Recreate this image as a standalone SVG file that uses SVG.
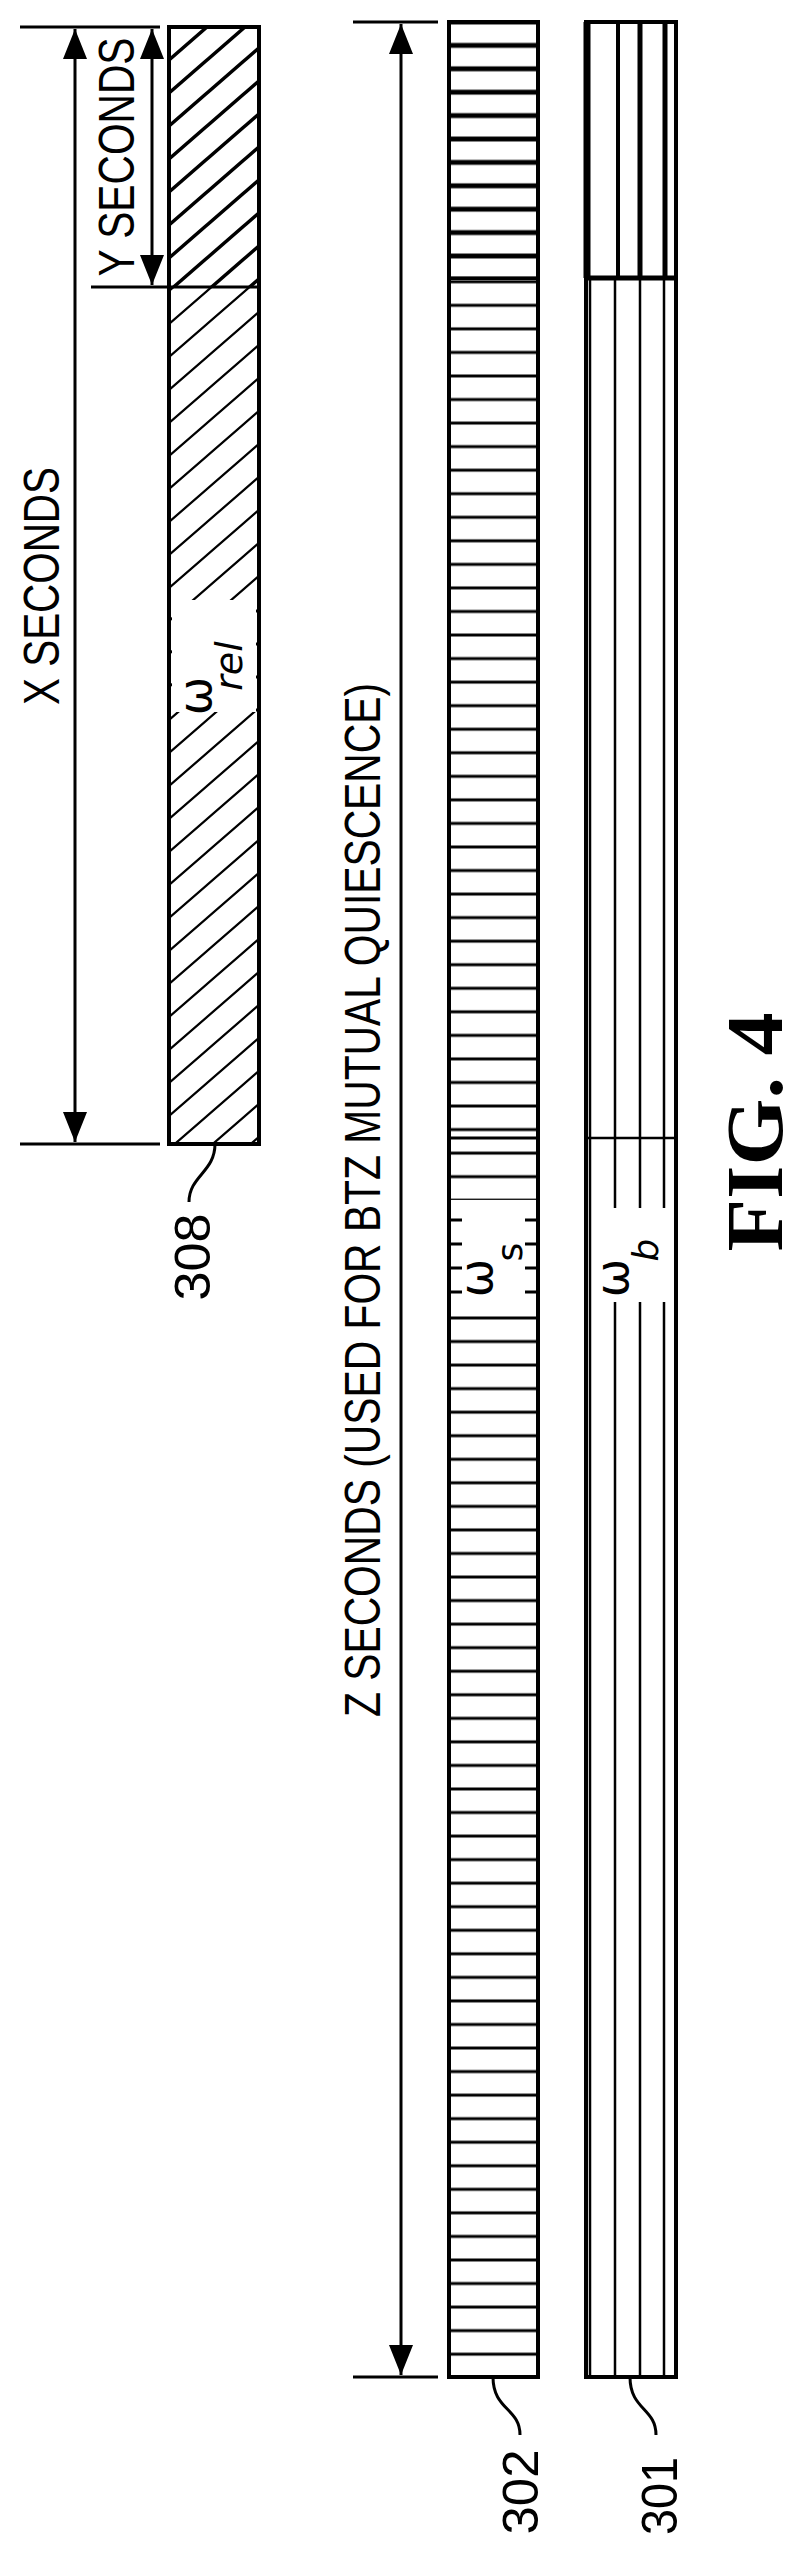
<svg xmlns="http://www.w3.org/2000/svg" width="800" height="2555" viewBox="0 0 800 2555">
<style>
.ln{stroke:#000;stroke-width:3;fill:none}
.bx{stroke:#000;stroke-width:4;fill:none}
.t{font-family:"Liberation Sans",Arial,sans-serif;font-size:50px;fill:#000}
.fig{font-family:"Liberation Serif","Times New Roman",serif;font-size:80px;font-weight:bold;fill:#000}
.w{font-family:"DejaVu Sans",sans-serif;fill:#000}
</style>
<defs>
<marker id="ah" viewBox="0 0 30 24" refX="30" refY="12" markerWidth="30" markerHeight="24" markerUnits="userSpaceOnUse" orient="auto-start-reverse"><path d="M0,0 L30,12 L0,24 Z" fill="#000"/></marker>
<pattern id="hatchA" width="38" height="33" patternUnits="userSpaceOnUse" x="169" y="27"><path d="M0,33 L38,0 M-4,3.5 L4,-3.5 M34,36.5 L42,29.5" stroke="#000" stroke-width="3.5"/></pattern>
<pattern id="hatchB" width="38" height="33" patternUnits="userSpaceOnUse" x="169" y="27"><path d="M0,33 L38,0 M-4,3.5 L4,-3.5 M34,36.5 L42,29.5" stroke="#000" stroke-width="2.2"/></pattern>
<pattern id="hzA" width="100" height="23.4" patternUnits="userSpaceOnUse" x="449" y="10.3"><path d="M0,11.7 H100" stroke="#000" stroke-width="5"/></pattern>
<pattern id="hzB" width="100" height="23.55" patternUnits="userSpaceOnUse" x="449" y="270"><path d="M0,11.8 H100" stroke="#000" stroke-width="3"/></pattern>
</defs>

<g id="connectors">
<path class="ln" d="M20,27 H160 M20,1144 H160"/>
<line class="ln" x1="75" y1="29" x2="75" y2="1142" marker-start="url(#ah)" marker-end="url(#ah)"/>
<path class="ln" d="M91,287 H259"/>
<line class="ln" x1="152" y1="29" x2="152" y2="285" marker-start="url(#ah)" marker-end="url(#ah)"/>
<path class="ln" d="M353,22 H438 M353,2377 H438"/>
<line class="ln" x1="401" y1="24" x2="401" y2="2375" marker-start="url(#ah)" marker-end="url(#ah)"/>
<path class="ln" stroke-width="2" d="M215,1144 C215,1172 189,1176 189,1202"/>
<path class="ln" stroke-width="2" d="M493,2377 C493,2410 520,2408 520,2435"/>
<path class="ln" stroke-width="2" d="M630,2377 C630,2410 656,2408 656,2435"/>
</g>

<g id="bar308">
<rect x="169" y="27" width="90" height="260" fill="url(#hatchA)"/>
<rect x="169" y="287" width="90" height="857" fill="url(#hatchB)"/>
<rect x="172" y="600" width="84" height="112" fill="#fff"/>
<rect class="bx" x="169" y="27" width="90" height="1117"/>
<text class="w" font-size="46" transform="translate(211,696) rotate(-90)" text-anchor="middle">ω</text>
<text class="w" font-size="38" font-style="italic" transform="translate(242,666) rotate(-90)" text-anchor="middle">rel</text>
</g>

<g id="bar302">
<rect x="449" y="22" width="89" height="258" fill="url(#hzA)"/>
<rect x="449" y="280" width="89" height="2097" fill="url(#hzB)"/>
<rect x="451" y="1200" width="85" height="112" fill="#fff"/>
<path class="ln" d="M449,1220 H462 M449,1244 H462 M449,1268 H462 M449,1292 H462 M525,1220 H538 M525,1244 H538 M525,1268 H538 M525,1292 H538 M449,1138 H538 M449,278 H538"/>
<rect class="bx" x="449" y="22" width="89" height="2355"/>
<text class="w" font-size="46" transform="translate(492,1278) rotate(-90)" text-anchor="middle">ω</text>
<text class="w" font-size="36" transform="translate(522,1252) rotate(-90)" text-anchor="middle">s</text>
</g>

<g id="bar301">
<path stroke="#000" fill="none" stroke-width="4" d="M618,22 V278"/>
<path stroke="#000" fill="none" stroke-width="5" d="M640,22 V278 M665,22 V278 M586,278 H676"/>
<path stroke="#000" fill="none" stroke-width="2.5" d="M590,278 V2377 M615,278 V1208 M640,278 V1208 M664,278 V1208 M615,1302 V2377 M640,1302 V2377 M664,1302 V2377 M586,1138 H676"/>
<path stroke="#000" fill="none" stroke-width="7" d="M587,22 V278"/>
<rect class="bx" x="586" y="22" width="90" height="2355"/>
<rect x="594" y="1208" width="68" height="94" fill="#fff"/>
<text class="w" font-size="46" transform="translate(628,1278) rotate(-90)" text-anchor="middle">ω</text>
<text class="w" font-size="36" font-style="italic" transform="translate(658,1250) rotate(-90)" text-anchor="middle">b</text>
</g>

<g id="labels">
<text class="t" transform="translate(134,157) rotate(-90)" text-anchor="middle" textLength="239" lengthAdjust="spacingAndGlyphs">Y SECONDS</text>
<text class="t" transform="translate(59,586) rotate(-90)" text-anchor="middle" textLength="238" lengthAdjust="spacingAndGlyphs">X SECONDS</text>
<text class="t" transform="translate(380,1200) rotate(-90)" text-anchor="middle" textLength="1034" lengthAdjust="spacingAndGlyphs">Z SECONDS (USED FOR BTZ MUTUAL QUIESCENCE)</text>
<text class="t" transform="translate(210,1257) rotate(-90)" text-anchor="middle" textLength="87" lengthAdjust="spacingAndGlyphs">308</text>
<text class="t" transform="translate(538,2492) rotate(-90)" text-anchor="middle" textLength="85" lengthAdjust="spacingAndGlyphs">302</text>
<text class="t" transform="translate(677,2496) rotate(-90)" text-anchor="middle" textLength="78" lengthAdjust="spacingAndGlyphs">301</text>
<text class="fig" transform="translate(782,1132) rotate(-90)" text-anchor="middle" textLength="239" lengthAdjust="spacingAndGlyphs">FIG. 4</text>
</g>
</svg>
